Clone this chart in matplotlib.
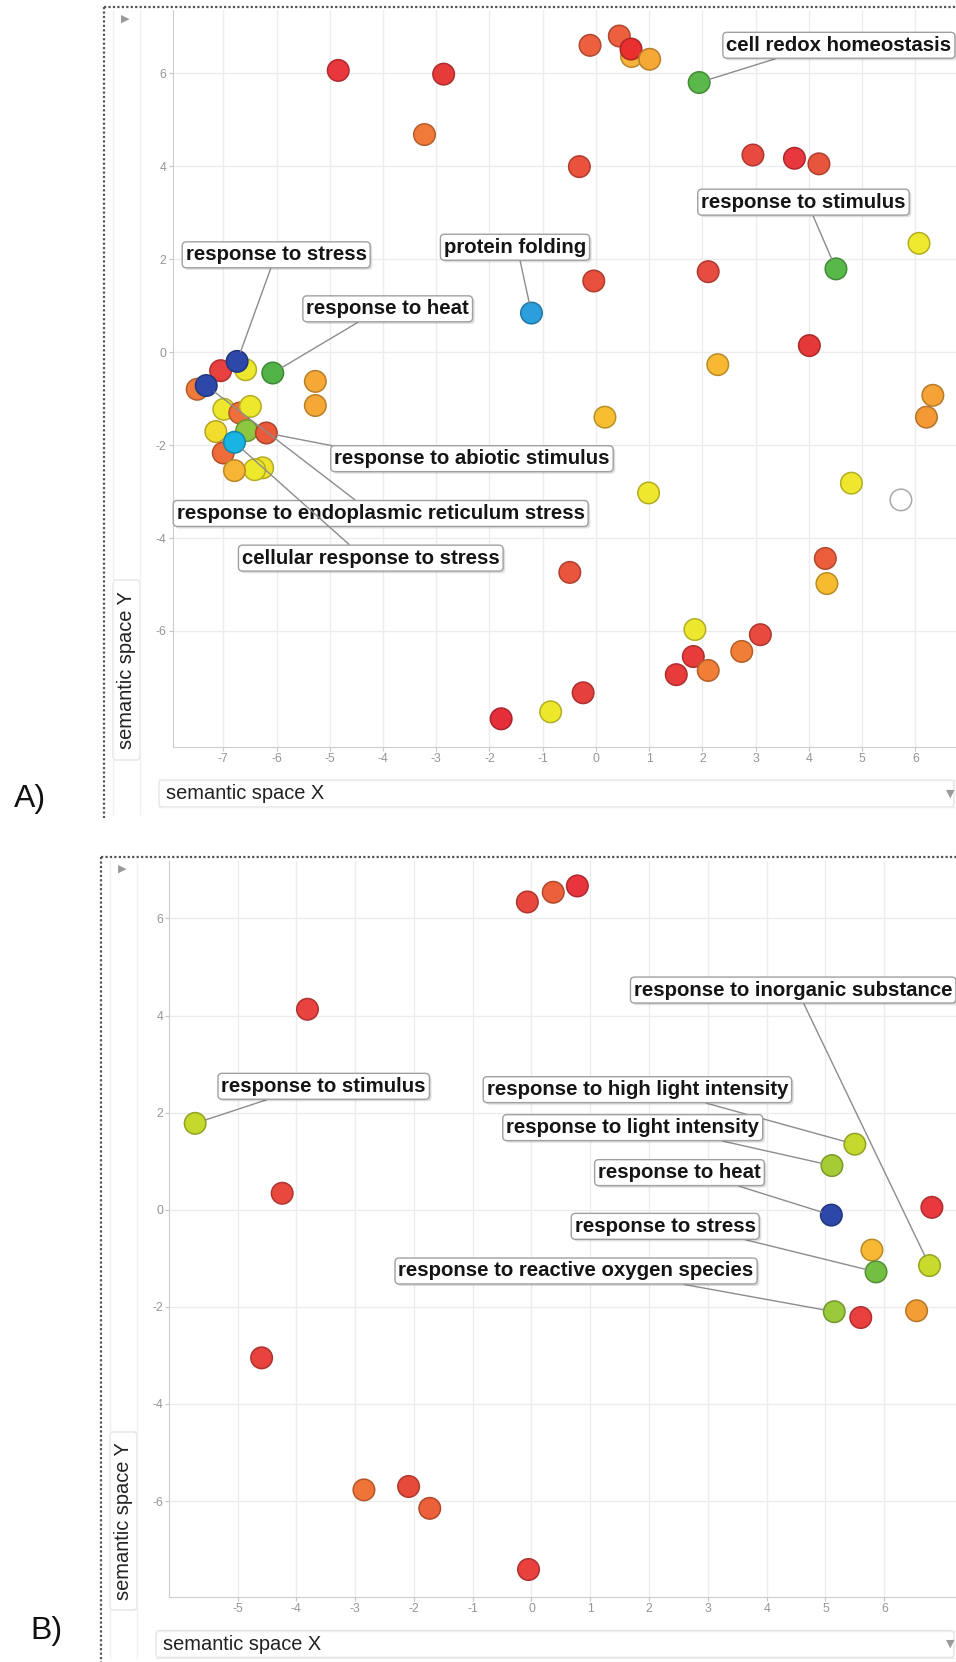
import numpy as np
import matplotlib.pyplot as plt
import matplotlib.colors as mcolors
import matplotlib.patheffects as pe
from matplotlib.lines import Line2D
from matplotlib.patches import FancyBboxPatch

plt.rcParams['font.family'] = ['Liberation Sans', 'DejaVu Sans']
plt.rcParams['axes.unicode_minus'] = False

W, H = 956, 1662

# ---------------- panel A data ----------------
a_x = [-4.84, -2.86, -3.22, -0.11, 0.44, 0.67, 0.66, 1.01, 1.94, -0.31,
       2.95, 3.73, 4.19, 6.07, -0.04, 2.11, 4.51, -1.21, 4.01, 2.29,
       6.33, 6.21, 0.17, 0.99, 4.80, 5.73, -0.49, 4.31, 4.34, 1.86,
       3.09, 1.83, 2.74, 2.11, 1.51, -0.24, -0.85, -1.78,
       -7.49, -7.05, -6.58, -6.74, -6.07, -7.32, -5.27, -5.27, -6.99, -6.69,
       -6.49, -7.14, -7.00, -6.56, -6.19, -6.79, -6.26, -6.41, -6.79]
a_y = [6.06, 5.98, 4.68, 6.60, 6.80, 6.36, 6.52, 6.30, 5.80, 3.99,
       4.24, 4.17, 4.05, 2.34, 1.53, 1.73, 1.79, 0.84, 0.14, -0.27,
       -0.93, -1.40, -1.40, -3.03, -2.82, -3.18, -4.74, -4.44, -4.98, -5.97,
       -6.08, -6.55, -6.44, -6.85, -6.94, -7.33, -7.74, -7.89,
       -0.80, -0.40, -0.38, -0.20, -0.45, -0.72, -0.63, -1.15, -1.23, -1.31,
       -1.17, -1.71, -2.17, -1.69, -1.74, -1.94, -2.49, -2.53, -2.55]
a_col = ['#e8383d', '#e53c3a', '#ef7a3a', '#ec6040', '#ec6040', '#f6b53a', '#e8302f', '#f5a836', '#5ab94a', '#e9523d',
         '#e84a40', '#e8373f', '#e8553d', '#eee82e', '#e8503d', '#e84c40', '#58b84a', '#2b9fdc', '#e53838', '#f7b834',
         '#f5a336', '#f39a36', '#f7be32', '#eee72d', '#eee72d', '#ffffff', '#e9553d', '#ec5e3b', '#f7bb30', '#ece82d',
         '#e84a3e', '#e83c3c', '#f07e36', '#f07e36', '#e83c3c', '#e6403e', '#eee82d', '#e42f3a',
         '#ef7a3a', '#e8403e', '#eee82d', '#2d48a8', '#52b448', '#2d48a8', '#f5a836', '#f5a836', '#eee82d', '#ef6f3a',
         '#eee82d', '#f2dc2e', '#ef6c3a', '#8dc63f', '#e85a3a', '#18b4e4', '#f0e22d', '#eee82d', '#f6b535']

a_labels = ['cell redox homeostasis', 'response to stimulus', 'protein folding', 'response to stress',
            'response to heat', 'response to abiotic stimulus',
            'response to endoplasmic reticulum stress', 'cellular response to stress']
a_target = [8, 16, 17, 41, 42, 52, 43, 53]
a_lab_x = [4.565, 3.900, -1.520, -6.006, -3.911, -2.328, -4.043, -4.229]
a_lab_y = [6.601, 3.226, 2.256, 2.093, 0.931, -2.293, -3.472, -4.433]
a_relpos = [(0.275, 0), (0.538, 0), (0.53, 0), (0.478, 0), (0.358, 0), (0.057, 1), (0.45, 1), (0.434, 1)]

# ---------------- panel B data ----------------
b_x = [-3.81, -5.72, -4.24, -0.07, 0.37, 0.78, 5.50, 5.11, 5.10, 6.81,
       5.79, 5.86, 6.77, 5.15, 5.60, 6.55, -0.05, -4.59, -2.85, -2.09, -1.73]
b_y = [4.13, 1.78, 0.34, 6.34, 6.54, 6.67, 1.35, 0.91, -0.11, 0.05,
       -0.83, -1.28, -1.15, -2.10, -2.22, -2.08, -7.41, -3.05, -5.77, -5.70, -6.15]
b_col = ['#e8433e', '#c5d82c', '#e8483e', '#e8473d', '#ec613c', '#e8353d', '#c5d82d', '#a5cc35', '#2d48a8', '#e83a3d',
         '#f7b833', '#72bf44', '#c8da2c', '#9ac93c', '#e8403e', '#f39d35', '#e8413e', '#e8433e', '#ef7438', '#e64a3b',
         '#ec603a']

b_labels = ['response to inorganic substance', 'response to stimulus', 'response to high light intensity',
            'response to light intensity', 'response to heat', 'response to stress',
            'response to reactive oxygen species']
b_target = [12, 1, 6, 7, 8, 11, 13]
b_lab_x = [4.451, -3.534, 1.802, 1.722, 2.517, 2.275, 0.759]
b_lab_y = [4.526, 2.543, 2.474, 1.692, 0.765, -0.341, -1.261]
b_relpos = [(0.527, 0), (0.28, 0), (0.68, 0), (0.785, 0), (0.786, 0), (0.854, 0), (0.742, 0)]


def fx(px):
    return px / W


def fy(py):
    return 1 - py / H


def darker(c, k=0.75):
    if c.lower() == '#ffffff':
        return '#a8a8a8'
    r, g, b = mcolors.to_rgb(c)
    return (r * k, g * k, b * k)


def panel(left, top, bottom, xlim, ylim, xticks, yticks, xs, ys, cols, labels, target, lx, ly, relpos):
    ax = fig.add_axes([fx(left), fy(bottom), fx(W - left), (bottom - top) / H])
    ax.set_xlim(xlim)
    ax.set_ylim(ylim)
    ax.set_xticks(xticks)
    ax.set_yticks(yticks)
    ax.grid(True, color='#ececec', lw=1)
    ax.set_axisbelow(True)
    for s in ['top', 'right']:
        ax.spines[s].set_visible(False)
    for s in ['left', 'bottom']:
        ax.spines[s].set_color('#cccccc')
    ax.tick_params(colors='#c4c4c4', labelcolor='#959595', labelsize=8.7, length=3, pad=1.5)
    ax.scatter(xs, ys, s=240, c=cols, edgecolors=[darker(c) for c in cols], linewidths=1.1,
               zorder=3, clip_on=False)
    for i, (txt, t, tx, ty, rp) in enumerate(zip(labels, target, lx, ly, relpos)):
        an = ax.annotate(txt, xy=(xs[t], ys[t]), xytext=(tx, ty), ha='center', va='center',
                         fontsize=14.7, fontweight='bold', color='#151515', zorder=5 + i,
                         bbox=dict(boxstyle='round,pad=0.17,rounding_size=0.2', fc='white', ec='#a0a0a0', lw=1),
                         arrowprops=dict(arrowstyle='-', color='#8c8c8c', lw=1, shrinkA=0, shrinkB=7.5,
                                         relpos=rp))
        an.get_bbox_patch().set_path_effects([pe.SimplePatchShadow(offset=(1.5, -1.5), alpha=0.18), pe.Normal()])
    return ax


def frame(x0, y0, y1, ylab_box, xlab_y, xlab_x0, letter, letter_xy):
    # dotted outer border
    fig.add_artist(Line2D([fx(x0), 1], [fy(y0), fy(y0)], color='#555555', lw=1.6, ls=(0, (1, 1))))
    fig.add_artist(Line2D([fx(x0), fx(x0)], [fy(y0), fy(y1)], color='#555555', lw=1.6, ls=(0, (1, 1))))
    # faint guide columns
    bx0, bx1, by0, by1 = ylab_box
    for xx in (bx0, bx1):
        fig.add_artist(Line2D([fx(xx), fx(xx)], [fy(y0 + 4), fy(y1 - 4)], color='#f0f0f0', lw=1))
    for yy in (xlab_y - 13.5, xlab_y + 13.5):
        fig.add_artist(Line2D([fx(xlab_x0), 1], [fy(yy), fy(yy)], color='#eeeeee', lw=1))
    fig.add_artist(FancyBboxPatch((fx(bx0), fy(by1)), fx(bx1 - bx0), (by1 - by0) / H,
                                  boxstyle='round,pad=0,rounding_size=0.003', fc='white', ec='#e4e4e4', lw=1))
    fig.add_artist(FancyBboxPatch((fx(xlab_x0), fy(xlab_y + 13.5)), fx(W - xlab_x0 - 2), 27 / H,
                                  boxstyle='round,pad=0,rounding_size=0.003', fc='white', ec='#e4e4e4', lw=1))
    fig.text(fx((bx0 + bx1) / 2), fy((by0 + by1) / 2), 'semantic space Y', rotation=90,
             ha='center', va='center', fontsize=14.4, color='#222222')
    fig.text(fx(xlab_x0 + 7), fy(xlab_y), 'semantic space X', ha='left', va='center',
             fontsize=14.4, color='#222222')
    fig.text(fx(x0 + 21), fy(y0 + 12), '\u25B6', ha='center', va='center', fontsize=8,
             color='#9a9a9a', family='DejaVu Sans')
    fig.text(fx(950), fy(xlab_y), '\u25BC', ha='center', va='center', fontsize=8,
             color='#9a9a9a', family='DejaVu Sans')
    fig.text(fx(letter_xy[0]), fy(letter_xy[1]), letter, ha='center', va='center', fontsize=23, color='#111111')


fig = plt.figure(figsize=(W / 100, H / 100), dpi=100)

frame(104, 7, 818, (113, 140, 580, 760), 793.5, 159, 'A)', (29.5, 799))
frame(101, 857, 1662, (110, 137, 1432, 1610), 1644, 156, 'B)', (46.5, 1631))

panel(172.7, 10, 746.7, (-7.95, 6.765), (-8.49, 7.36), range(-7, 7), range(-6, 7, 2),
      a_x, a_y, a_col, a_labels, a_target, a_lab_x, a_lab_y, a_relpos)
panel(169.3, 860.7, 1596.7, (-6.16, 7.22), (-7.97, 7.19), range(-5, 7), range(-6, 7, 2),
      b_x, b_y, b_col, b_labels, b_target, b_lab_x, b_lab_y, b_relpos)

fig.savefig('out.png', dpi=100)
